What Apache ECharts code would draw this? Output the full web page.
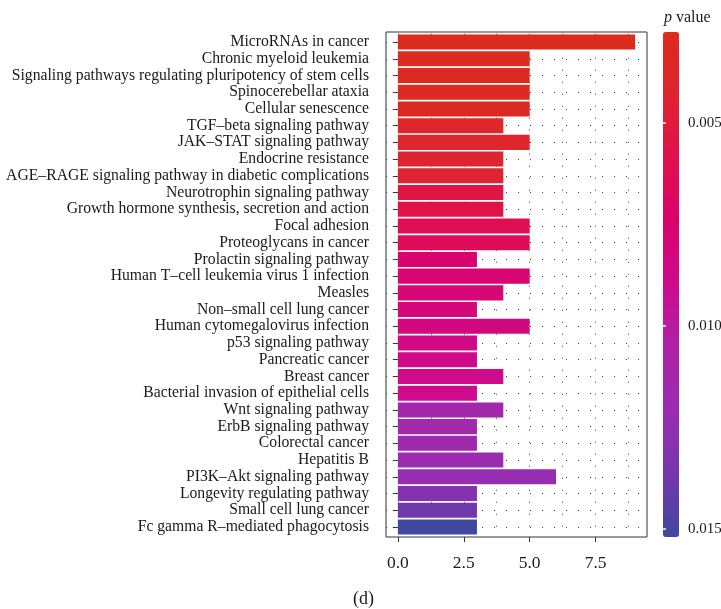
<!DOCTYPE html>
<html><head><meta charset="utf-8">
<script src="https://cdn.jsdelivr.net/npm/echarts@6/dist/echarts.min.js"></script>
<style>html,body{margin:0;padding:0;background:#fff}#c{width:721px;height:609px}</style>
</head><body><div id="c"></div>
<script>
const pathways = [
  'MicroRNAs in cancer',
  'Chronic myeloid leukemia',
  'Signaling pathways regulating pluripotency of stem cells',
  'Spinocerebellar ataxia',
  'Cellular senescence',
  'TGF–beta signaling pathway',
  'JAK–STAT signaling pathway',
  'Endocrine resistance',
  'AGE–RAGE signaling pathway in diabetic complications',
  'Neurotrophin signaling pathway',
  'Growth hormone synthesis, secretion and action',
  'Focal adhesion',
  'Proteoglycans in cancer',
  'Prolactin signaling pathway',
  'Human T–cell leukemia virus 1 infection',
  'Measles',
  'Non–small cell lung cancer',
  'Human cytomegalovirus infection',
  'p53 signaling pathway',
  'Pancreatic cancer',
  'Breast cancer',
  'Bacterial invasion of epithelial cells',
  'Wnt signaling pathway',
  'ErbB signaling pathway',
  'Colorectal cancer',
  'Hepatitis B',
  'PI3K–Akt signaling pathway',
  'Longevity regulating pathway',
  'Small cell lung cancer',
  'Fc gamma R–mediated phagocytosis'
];
const counts = [9,5,5,5,5,4,5,4,4,4,4,5,5,3,5,4,3,5,3,3,4,3,4,3,3,4,6,3,3,3];
const pValues = [0.00276,0.0030,0.0031,0.0032,0.0033,0.0038,0.0040,0.0042,0.0044,0.0054,
                 0.0056,0.0062,0.0065,0.0076,0.0078,0.0080,0.0082,0.0084,0.0086,0.0088,
                 0.0089,0.0090,0.0115,0.0116,0.0117,0.0120,0.0122,0.0130,0.0138,0.0152];
const xTickValues = [0, 2.5, 5, 7.5];
const xGridValues = [0, 1.25, 2.5, 3.75, 5, 6.25, 7.5, 8.75];
const pTickValues = [0.005, 0.010, 0.015];
const pRange = [0.00276, 0.0152];
const xRange = [-0.45, 9.45];
const colorStops = ['#dc2c1c','#de2430','#e0104c','#da046a','#cd0b8d','#ae22a4','#9a2cb0','#7436ac','#4048a0'];

const FONT = 'Liberation Serif';
const TXT = '#1a1a1a';
const dotted = { color: '#444', width: 1, type: [1, 11] };

const chart = echarts.init(document.getElementById('c'));
chart.setOption({
  animation: false,
  textStyle: { fontFamily: FONT },
  title: [
    { text: '{i|p} value', left: 664, top: 10, padding: 0,
      textStyle: { fontFamily: FONT, fontSize: 16, fontWeight: 'normal', color: TXT,
        rich: { i: { fontFamily: FONT, fontSize: 16, fontStyle: 'italic', color: TXT } } } },
    { text: '(d)', left: 353, top: 590, padding: 0,
      textStyle: { fontFamily: FONT, fontSize: 18, fontWeight: 'normal', color: TXT } }
  ],
  grid: [
    { left: 386, right: 74, top: 33.7, bottom: 73.7, outerBoundsMode: 'none' },
    { left: 386, right: 74, top: 32, bottom: 72, show: true, borderColor: '#333', borderWidth: 1, backgroundColor: 'transparent', outerBoundsMode: 'none' },
    { left: 663, width: 16, top: 32, height: 505, outerBoundsMode: 'none' }
  ],
  xAxis: [
    { gridIndex: 0, type: 'value', min: xRange[0], max: xRange[1], position: 'bottom', offset: 1.7,
      axisLine: { show: false },
      axisTick: { show: true, length: 5, lineStyle: { color: '#333' }, customValues: xTickValues },
      axisLabel: { customValues: xTickValues, formatter: v => v.toFixed(1), fontSize: 17.5, color: TXT, margin: 17, fontFamily: FONT },
      splitLine: { show: false } },
    { gridIndex: 0, type: 'value', min: xRange[0], max: xRange[1], position: 'bottom',
      axisLine: { show: false },
      axisTick: { show: false, customValues: xGridValues },
      axisLabel: { show: false, customValues: xGridValues },
      splitLine: { show: true, lineStyle: dotted } },
    { gridIndex: 1, type: 'value', min: 0, max: 1, show: false },
    { gridIndex: 2, type: 'value', min: 0, max: 1, show: false }
  ],
  yAxis: [
    { gridIndex: 0, type: 'category', data: pathways, inverse: true,
      axisLine: { show: false },
      axisTick: { show: true, length: 5, alignWithLabel: true, interval: 0, lineStyle: { color: '#333' } },
      axisLabel: { interval: 0, fontSize: 15.7, color: TXT, margin: 17, fontFamily: FONT },
      splitLine: { show: true, interval: 0, alignWithLabel: true, lineStyle: dotted } },
    { gridIndex: 1, type: 'value', min: 0, max: 1, show: false },
    { gridIndex: 2, type: 'value', min: pRange[0], max: pRange[1], inverse: true, position: 'right', z: 10,
      axisLine: { show: false },
      axisTick: { show: true, inside: true, length: 3, customValues: pTickValues, lineStyle: { color: '#fff', width: 1.5 } },
      axisLabel: { customValues: pTickValues, formatter: v => v.toFixed(3), fontSize: 15, color: TXT, margin: 9, fontFamily: FONT },
      splitLine: { show: false } },
    { gridIndex: 2, type: 'value', min: pRange[0], max: pRange[1], inverse: true, position: 'left', z: 10,
      axisLine: { show: false },
      axisTick: { show: true, inside: true, length: 3, customValues: pTickValues, lineStyle: { color: '#fff', width: 1.5 } },
      axisLabel: { show: false, customValues: pTickValues },
      splitLine: { show: false } }
  ],
  visualMap: {
    type: 'continuous', min: pRange[0], max: pRange[1], dimension: 2, seriesIndex: 0,
    inRange: { color: colorStops }, calculable: false, inverse: true, orient: 'vertical',
    left: 663, top: 32, itemWidth: 16, itemHeight: 505, padding: 0, text: null, showLabel: false,
    hoverLink: false
  },
  series: [{
    type: 'bar', xAxisIndex: 0, yAxisIndex: 0,
    data: pathways.map((name, i) => [counts[i], name, pValues[i]]),
    encode: { x: 0, y: 1 },
    barWidth: '90%'
  }]
});
</script></body></html>
